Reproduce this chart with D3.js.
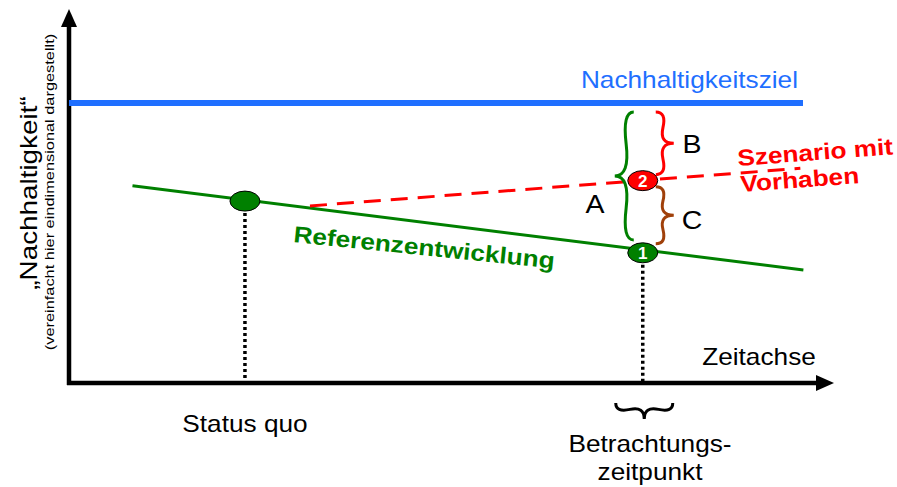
<!DOCTYPE html>
<html>
<head>
<meta charset="utf-8">
<script src="https://cdn.jsdelivr.net/npm/d3@7"></script>
<style>
  body { margin: 0; background: #fff; }
  text { font-family: "Liberation Sans", Arial, sans-serif; }
</style>
</head>
<body>
<div id="graph"></div>
<script>
// data (conceptual units: time 0..100, sustainability 0..100)
var zielWert = 75.3;
var referenz = [{t: 8.3, v: 53.0}, {t: 96.0, v: 30.4}];
var szenario = [{t: 31.5, v: 47.6}, {t: 95.6, v: 57.7}];
var statusQuo = {t: 23.0, v: 48.9};
var punkte = [{t: 75.0, v: 35.0, label: "1", fill: "#008000"},
              {t: 75.0, v: 54.4, label: "2", fill: "#ff0000"}];

var width = 897, height = 487;
var svg = d3.select("#graph").append("svg")
  .attr("width", width).attr("height", height);

var x = d3.scaleLinear().domain([0, 100]).range([69, 834]);
var y = d3.scaleLinear().domain([0, 100]).range([383, 11]);

var green = "#008000", red = "#ff0000", blue = "#1f6fff", brown = "#a0400a";
var k = 1.14; // horizontal stretch of the original lettering

// text helper, slightly widened like the source drawing
function label(px, py, s, size, opts) {
  opts = opts || {};
  var t = svg.append("text")
    .attr("transform", "translate(" + px + "," + py + ") rotate(" + (opts.rot || 0) + ") scale(" + (opts.k || k) + ",1)")
    .attr("text-anchor", opts.anchor || "middle")
    .attr("font-size", size)
    .attr("font-weight", opts.bold ? "bold" : "normal")
    .attr("fill", opts.fill || "#000")
    .text(s);
  return t;
}

// curly brace path
function brace(x1, y1, x2, y2, w, q) {
  var dx = x1 - x2, dy = y1 - y2, len = Math.sqrt(dx*dx + dy*dy);
  dx /= len; dy /= len;
  var qx1 = x1 + q*w*dy, qy1 = y1 - q*w*dx;
  var qx2 = (x1 - .25*len*dx) + (1-q)*w*dy, qy2 = (y1 - .25*len*dy) - (1-q)*w*dx;
  var tx1 = (x1 - .5*len*dx) + w*dy, ty1 = (y1 - .5*len*dy) - w*dx;
  var qx3 = x2 + q*w*dy, qy3 = y2 - q*w*dx;
  var qx4 = (x1 - .75*len*dx) + (1-q)*w*dy, qy4 = (y1 - .75*len*dy) - (1-q)*w*dx;
  return "M" + x1 + "," + y1 + " Q" + qx1 + "," + qy1 + " " + qx2 + "," + qy2 + " T" + tx1 + "," + ty1 +
         " M" + x2 + "," + y2 + " Q" + qx3 + "," + qy3 + " " + qx4 + "," + qy4 + " T" + tx1 + "," + ty1;
}

// axes with arrow heads
svg.append("line").attr("x1", x(0)).attr("y1", y(0) + 2).attr("x2", x(0)).attr("y2", 24)
  .attr("stroke", "#000").attr("stroke-width", 4.5);
svg.append("path").attr("d", "M" + x(0) + ",9 L" + (x(0) - 8) + ",27 L" + (x(0) + 8) + ",27 Z").attr("fill", "#000");
svg.append("line").attr("x1", x(0) - 2).attr("y1", y(0)).attr("x2", 818).attr("y2", y(0))
  .attr("stroke", "#000").attr("stroke-width", 4.5);
svg.append("path").attr("d", "M834," + y(0) + " L816," + (y(0) - 8) + " L816," + (y(0) + 8) + " Z").attr("fill", "#000");

// goal line
svg.append("line").attr("x1", x(0)).attr("x2", 803).attr("y1", y(zielWert)).attr("y2", y(zielWert))
  .attr("stroke", blue).attr("stroke-width", 6);
label(798, 88, "Nachhaltigkeitsziel", 23, {anchor: "end", fill: blue});

var line = d3.line().x(function(d) { return x(d.t); }).y(function(d) { return y(d.v); });

// dotted guides
[statusQuo, punkte[0]].forEach(function(p) {
  svg.append("line").attr("x1", x(p.t)).attr("x2", x(p.t)).attr("y1", y(p.v) + 12).attr("y2", y(0) - 2)
    .attr("stroke", "#000").attr("stroke-width", 3.5).attr("stroke-dasharray", "3,3");
});

svg.append("path").datum(referenz).attr("d", line)
  .attr("stroke", green).attr("stroke-width", 3).attr("fill", "none");
svg.append("path").datum(szenario).attr("d", line)
  .attr("stroke", red).attr("stroke-width", 3).attr("stroke-dasharray", "17,10").attr("fill", "none");

// braces
var px = x(punkte[0].t);
svg.append("path").attr("d", brace(px - 9, 112, px - 9, 240, 19, 0.6))
  .attr("stroke", green).attr("stroke-width", 3).attr("fill", "none");
svg.append("path").attr("d", brace(px + 13, y(punkte[1].v) - 6, px + 13, 112, 18, 0.6))
  .attr("stroke", red).attr("stroke-width", 3).attr("fill", "none");
svg.append("path").attr("d", brace(px + 13, y(punkte[0].v) - 9, px + 13, y(punkte[1].v) + 6, 18, 0.6))
  .attr("stroke", brown).attr("stroke-width", 3).attr("fill", "none");
svg.append("path").attr("d", brace(px - 27, 403, px + 30, 403, 16, 0.6))
  .attr("stroke", "#000").attr("stroke-width", 3).attr("fill", "none");

// status quo ellipse
svg.append("ellipse").attr("cx", x(statusQuo.t)).attr("cy", y(statusQuo.v)).attr("rx", 15).attr("ry", 10)
  .attr("fill", green).attr("stroke", "#000").attr("stroke-width", 1);

// numbered points
var pt = svg.selectAll(".pt").data(punkte).enter().append("g")
  .attr("transform", function(d) { return "translate(" + x(d.t) + "," + y(d.v) + ")"; });
pt.append("ellipse").attr("rx", 15).attr("ry", 10).attr("fill", function(d) { return d.fill; })
  .attr("stroke", "#000").attr("stroke-width", 1);
pt.append("text").attr("text-anchor", "middle").attr("y", 6).attr("font-size", 17)
  .attr("font-weight", "bold").attr("fill", "#fff").text(function(d) { return d.label; });

// letters
label(595, 213, "A", 25);
label(692, 153, "B", 25);
label(692, 229, "C", 25);

// rotated series labels
label(293, 242, "Referenzentwicklung", 23, {anchor: "start", bold: true, fill: green, rot: 5.8});
label(738, 166, "Szenario mit", 23, {anchor: "start", bold: true, fill: red, rot: -4.3});
label(741, 192, "Vorhaben", 23, {anchor: "start", bold: true, fill: red, rot: -4.3});

// axis labels
label(759, 365, "Zeitachse", 23);
label(x(statusQuo.t), 432, "Status quo", 23);
label(650, 452, "Betrachtungs-", 23);
label(650, 480, "zeitpunkt", 23);

label(37, 193, "\u201eNachhaltigkeit\u201c", 24, {rot: -90, k: 1.16});
label(54, 192, "(vereinfacht hier eindimensional dargestellt)", 13, {rot: -90, k: 1.26});
</script>
</body>
</html>
